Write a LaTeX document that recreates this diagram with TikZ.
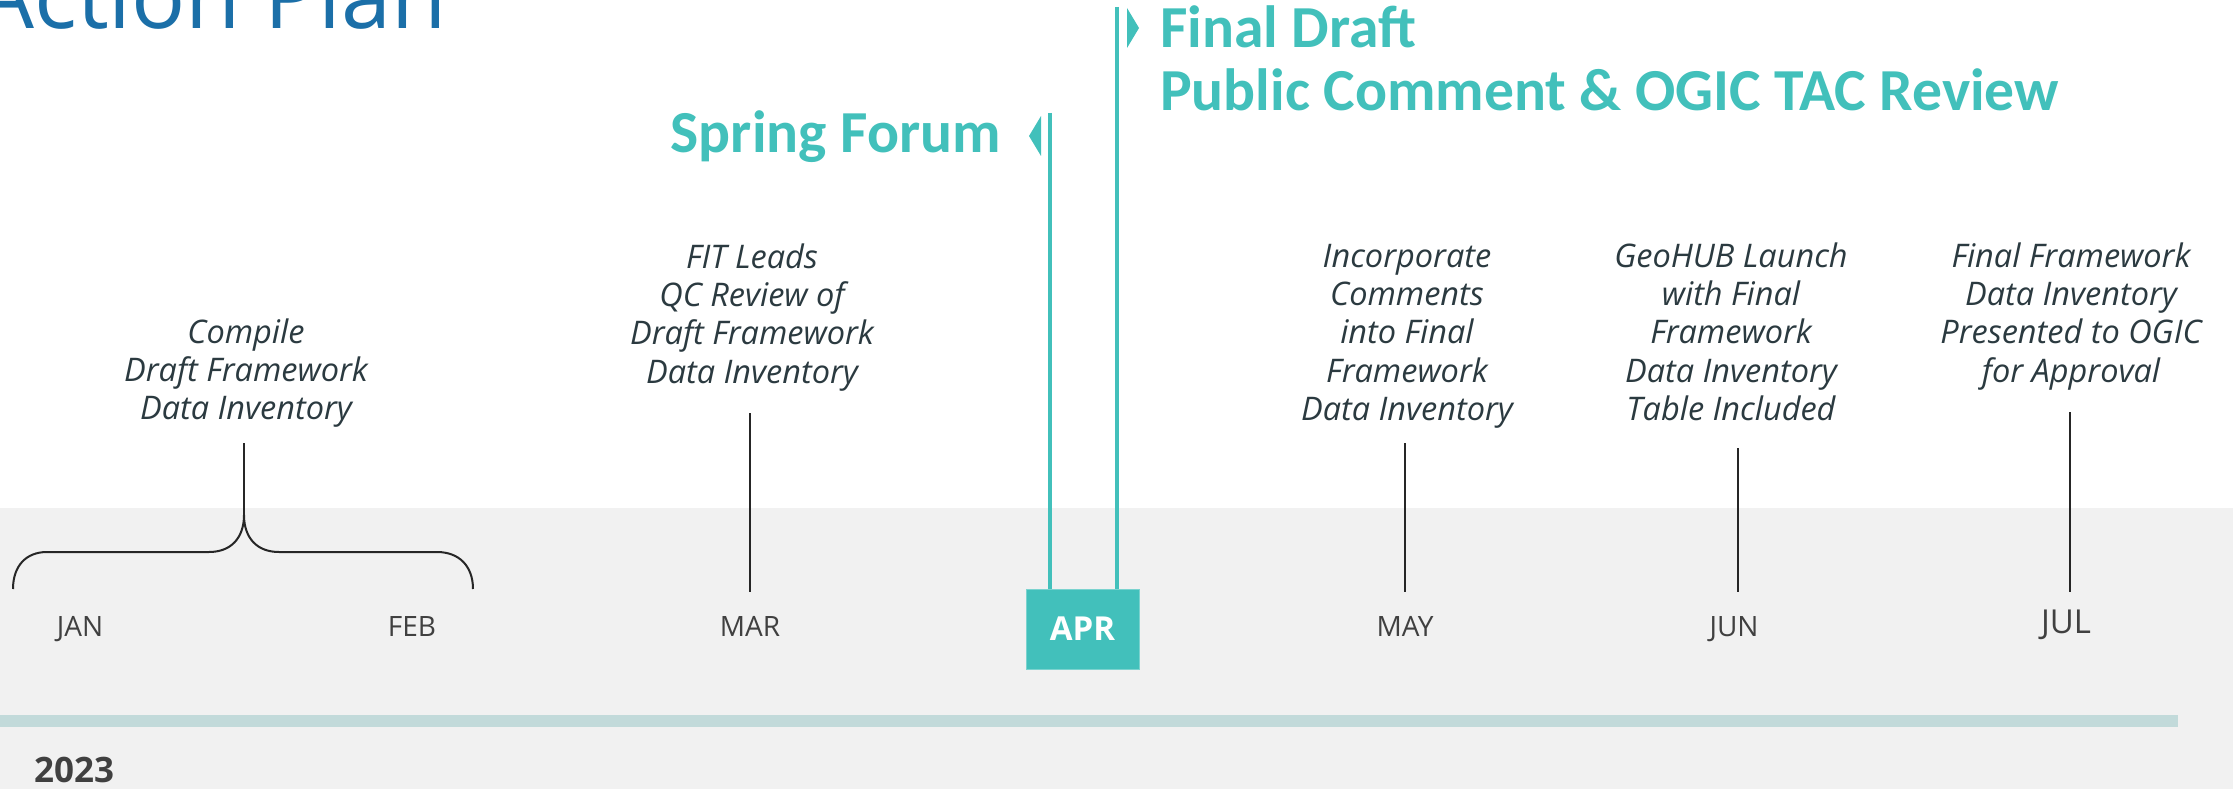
\documentclass[tikz,border=0pt]{standalone}
\usepackage{fontspec}
\setmainfont{Open Sans}
\newfontfamily\headf{Carlito}
\newfontfamily\itf{Open Sans}
\definecolor{teal1}{HTML}{42C0BB}
\definecolor{titleblue}{HTML}{1B6FA8}
\definecolor{band}{HTML}{F1F1F1}
\definecolor{barc}{HTML}{C2DADA}
\definecolor{ink}{HTML}{2B3A40}
\definecolor{monthc}{HTML}{404040}
\begin{document}
\begin{tikzpicture}[x=1pt,y=-1pt,
  heading/.style={font=\headf\bfseries\fontsize{59.6}{66}\selectfont, text=teal1, inner sep=0pt},
  task/.style={font=\itf\itshape\fontsize{32.5}{38.3}\selectfont, text=ink, align=center, inner sep=0pt, anchor=north},
  month/.style={font=\fontsize{28}{32}\selectfont, text=monthc, inner sep=0pt, anchor=base},
  tick/.style={line width=1.5pt, draw=black!85},
  milestone/.style={line width=4pt, draw=teal1},
  aprbox/.style={fill=teal1, draw=teal1!70!white, line width=0.8pt, minimum width=113pt, minimum height=80pt, inner sep=0pt,
    text=white, font=\bfseries\fontsize{33}{36}\selectfont}]
\useasboundingbox (0,0) rectangle (2233,789);
\fill[white] (0,0) rectangle (2233,789);
\fill[band] (0,508) rectangle (2233,789);
\fill[barc] (0,715) rectangle (2178,727);

% title
\node[font=\fontsize{90}{100}\selectfont, text=titleblue, anchor=base east, inner sep=0pt] (title) at (447,29) {Action Plan};

% headings
\node[heading, anchor=base west] (fd) at (1160,48) {Final Draft};
\node[heading, anchor=base west] (pc) at (1160,111) {Public Comment \& OGIC TAC Review};
\node[heading, anchor=base east] (sf) at (1001,153) {Spring Forum};

% APR box and milestone lines
\node[aprbox] (apr) at (1082.5,629) {APR};
\coordinate (sftop) at (1050,113);
\coordinate (fdtop) at (1117,7);
\draw[milestone] (sftop) -- (sftop |- apr.north);
\draw[milestone] (fdtop) -- (fdtop |- apr.north);
\fill[teal1] (1029,136) -- (1041,116) -- (1041,156) -- cycle;
\fill[teal1] (1127,8) -- (1139,28) -- (1127,48) -- cycle;

% tasks
\node[task] (t1) at (246,316.2) {\strut Compile\\Draft Framework\\Data Inventory};
\node[task] (t2) at (752,241.2) {\strut FIT Leads\\QC Review of\\Draft Framework\\Data Inventory};
\node[task] (t3) at (1407,240.2) {\strut Incorporate\\Comments\\into Final\\Framework\\Data Inventory};
\node[task] (t4) at (1731,240.2) {\strut GeoHUB Launch\\with Final\\Framework\\Data Inventory\\Table Included};
\node[task] (t5) at (2071,240.2) {\strut Final Framework\\Data Inventory\\Presented to OGIC\\for Approval};

% months
\node[month] (jan) at (80,636) {JAN};
\node[month] (feb) at (412,636) {FEB};
\node[month] (mar) at (750,636) {MAR};
\node[month] (may) at (1405,636) {MAY};
\node[month] (jun) at (1734,636) {JUN};
\node[month, font=\fontsize{33}{36}\selectfont] (jul) at (2066,633) {JUL};

% year
\node[font=\bfseries\fontsize{35}{40}\selectfont, text=monthc, anchor=base west, inner sep=0pt] (year) at (34,782) {2023};

% brace for JAN-FEB
\coordinate (bl) at (13,589);
\coordinate (br) at (473,589);
\coordinate (cusp) at (244,515);
\coordinate (c1top) at (244,443);
\draw[line width=2pt, draw=black!85] (bl) .. controls (13,566) and (26,552) .. (47,552) -- (209,552)
  .. controls (231,552) and (244,538) .. (cusp) .. controls (244,538) and (257,552) .. (279,552) -- (437,552)
  .. controls (459,552) and (473,566) .. (br);
\draw[tick] (c1top) -- (cusp);

% ticks
\coordinate (m3a) at (750,413); \coordinate (m3b) at (750,592);
\coordinate (m5a) at (1405,443); \coordinate (m5b) at (1405,592);
\coordinate (m6a) at (1738,448); \coordinate (m6b) at (1738,592);
\coordinate (m7a) at (2070,412); \coordinate (m7b) at (2070,592);
\draw[tick] (m3a) -- (m3b);
\draw[tick] (m5a) -- (m5b);
\draw[tick] (m6a) -- (m6b);
\draw[tick] (m7a) -- (m7b);
\end{tikzpicture}
\end{document}
